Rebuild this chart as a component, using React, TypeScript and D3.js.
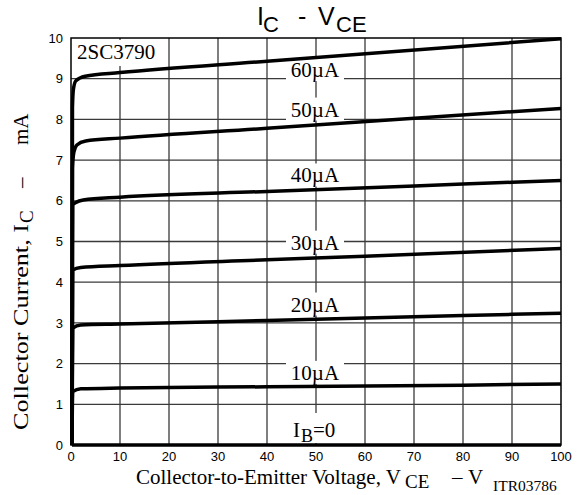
import React from "react";
import * as d3 from "d3";

// ---- data ----
const xTicks = [0, 10, 20, 30, 40, 50, 60, 70, 80, 90, 100];
const yTicks = [0, 1, 2, 3, 4, 5, 6, 7, 8, 9, 10];

const curveNames = ["60µA", "50µA", "40µA", "30µA", "20µA", "10µA", "IB=0"];
const vce60 = [0.2, 0.3, 0.5, 1, 2.9, 10, 40, 100];
const ic60 = [0, 8.3, 8.75, 8.95, 9.06, 9.15, 9.43, 9.98];
const vce50 = [0.2, 0.3, 0.6, 1.2, 3, 10, 40, 100];
const ic50 = [0, 6.8, 7.2, 7.37, 7.47, 7.54, 7.78, 8.27];
const vce40 = [0.2, 0.35, 1, 2.5, 10, 40, 80, 100];
const ic40 = [0, 5.9, 5.96, 6.02, 6.09, 6.23, 6.41, 6.5];
const vce30 = [0.2, 0.35, 2, 10, 40, 60, 100];
const ic30 = [0, 4.3, 4.36, 4.41, 4.55, 4.64, 4.83];
const vce20 = [0.2, 0.35, 2, 10, 40, 80, 100];
const ic20 = [0, 2.87, 2.95, 2.97, 3.06, 3.18, 3.24];
const vce10 = [0.2, 0.35, 2, 10, 40, 80, 100];
const ic10 = [0, 1.31, 1.38, 1.4, 1.43, 1.47, 1.5];
const vce0 = [0.2, 100];
const ic0 = [0, 0];

// label baselines in mA units (labels sit along the 50 V line)
const labelIc = [9.04, 8.07, 6.45, 4.8, 3.28, 1.6];

const W = 582;
const H = 495;

export default function App() {
  const x = d3.scaleLinear().domain([0, 100]).range([71, 561]);
  const y = d3.scaleLinear().domain([0, 10]).range([445, 38]);
  const line = d3
    .line<[number, number]>()
    .x((d) => x(d[0]))
    .y((d) => y(d[1]))
    .curve(d3.curveMonotoneX);

  const series: [number[], number[]][] = [
    [vce60, ic60],
    [vce50, ic50],
    [vce40, ic40],
    [vce30, ic30],
    [vce20, ic20],
    [vce10, ic10],
    [vce0, ic0],
  ];

  const serif = "'Liberation Serif', 'Times New Roman', serif";
  const sans = "'Liberation Sans', Arial, sans-serif";
  const lx = x(50) - 1;

  return (
    <svg
      width={W}
      height={H}
      style={{ position: "absolute", left: 0, top: 0, background: "#fff" }}
    >
      {/* grid */}
      {xTicks.slice(1, -1).map((t) => (
        <line key={"gx" + t} x1={x(t)} x2={x(t)} y1={y(10)} y2={y(0)} stroke="#3a3a3a" strokeWidth={1.3} />
      ))}
      {yTicks.slice(1, -1).map((t) => (
        <line key={"gy" + t} x1={x(0)} x2={x(100)} y1={y(t)} y2={y(t)} stroke="#3a3a3a" strokeWidth={1.3} />
      ))}
      {/* frame */}
      <rect x={x(0)} y={y(10)} width={x(100) - x(0)} height={y(0) - y(10)} fill="none" stroke="#000" strokeWidth={1.5} />

      {/* label masks */}
      {labelIc.map((v, i) => (
        <rect key={"m" + i} x={lx - 29} y={y(v) - 19} width={58} height={23} fill="#fff" />
      ))}
      <rect x={lx - 26} y={413} width={52} height={30} fill="#fff" />
      <rect x={73} y={40} width={88} height={26} fill="#fff" />

      {/* curves */}
      {series.map(([vs, is], i) => (
        <path
          key={"c" + i}
          d={line(vs.map((v, k) => [v, is[k]] as [number, number])) || ""}
          fill="none"
          stroke="#000"
          strokeWidth={3.5}
          strokeLinejoin="round"
        />
      ))}

      {/* curve labels */}
      {labelIc.map((v, i) => (
        <text key={"l" + i} x={lx} y={y(v)} textAnchor="middle" fontFamily={serif} fontSize={21}>
          {curveNames[i]}
        </text>
      ))}
      <text x={lx - 22} y={437} fontFamily={serif} fontSize={21}>
        I
      </text>
      <text x={lx - 14} y={442} fontFamily={serif} fontSize={18}>
        B
      </text>
      <text x={lx - 2} y={437} fontFamily={serif} fontSize={21}>
        =0
      </text>

      <text x={77} y={59} fontFamily={serif} fontSize={21}>
        2SC3790
      </text>

      {/* tick labels */}
      {xTicks.map((t) => (
        <text key={"tx" + t} x={x(t)} y={460.5} textAnchor="middle" fontFamily={sans} fontSize={13}>
          {t}
        </text>
      ))}
      {yTicks.map((t) => (
        <text key={"ty" + t} x={63} y={y(t)} dy="0.36em" textAnchor="end" fontFamily={sans} fontSize={13}>
          {t}
        </text>
      ))}

      {/* title */}
      <text x={257} y={25} fontFamily={sans} fontSize={25}>I</text>
      <text x={263} y={32} fontFamily={sans} fontSize={22}>C</text>
      <text x={298} y={25} fontFamily={sans} fontSize={25}>-</text>
      <text x={318} y={25} fontFamily={sans} fontSize={25}>V</text>
      <text x={336} y={32} fontFamily={sans} fontSize={22}>CE</text>

      {/* x axis title */}
      <text x={136} y={483.5} fontFamily={serif} fontSize={21}>
        Collector-to-Emitter Voltage, V
      </text>
      <text x={405} y={488} fontFamily={serif} fontSize={19}>CE</text>
      <text x={452} y={483.5} fontFamily={serif} fontSize={21}>–</text>
      <text x={468} y={483.5} fontFamily={serif} fontSize={21}>V</text>
      <text x={493} y={491} fontFamily={serif} fontSize={15.5}>ITR03786</text>

      {/* y axis title */}
      <g transform="translate(28,0) rotate(-90)">
        <text x={-430} y={0} fontFamily={serif} fontSize={22} textLength={206} lengthAdjust="spacingAndGlyphs">
          Collector Current, I
        </text>
        <text x={-223} y={5} fontFamily={serif} fontSize={19}>C</text>
        <text x={-188} y={0} fontFamily={serif} fontSize={21}>–</text>
        <text x={-145} y={0} fontFamily={serif} fontSize={21}>mA</text>
      </g>
    </svg>
  );
}
